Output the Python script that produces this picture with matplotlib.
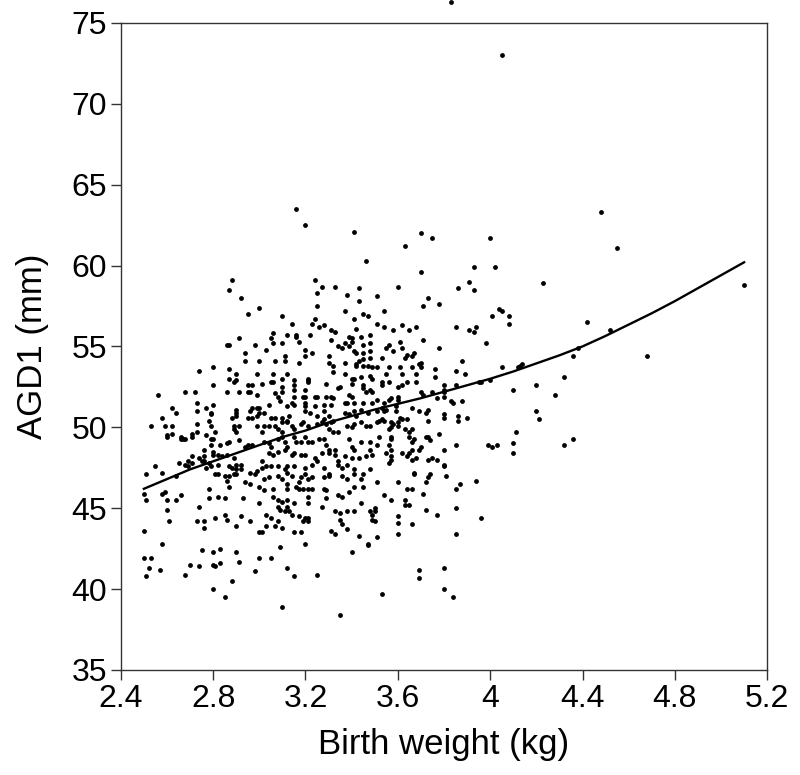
import matplotlib
matplotlib.use("Agg")
import matplotlib.pyplot as plt
import numpy as np

plt.rcParams['font.family'] = ['Liberation Sans', 'DejaVu Sans']

# Observed points (birth weight kg, AGD1 mm), grouped by region of the plot
pts_left_top = [
(2.88,59.1),(2.87,58.5),(2.92,58.0),(2.95,57.0),
]
pts_left_upper = [
(2.86,55.1),(2.87,55.1),(2.91,55.5),(2.98,55.1),(2.94,54.6),(2.94,54.1),(3.00,54.1),
(2.74,53.5),(2.80,53.7),(2.87,53.6),(2.90,53.3),(2.87,53.0),(2.89,52.8),(2.90,52.9),(2.99,53.3),
(2.80,52.6),(2.95,52.6),(2.97,52.6),(2.95,52.2),(2.96,52.2),(2.56,52.0),(2.68,52.2),(2.72,52.2),(2.86,52.2),(2.91,52.2),(2.99,52.0),
(2.73,51.5),(2.77,51.2),(2.80,51.4),(2.73,51.0),(2.62,51.2),(2.64,50.9),(2.90,51.1),(2.90,50.9),(2.79,50.9),(2.79,50.8),(2.96,51.0),(2.97,51.2),(2.99,51.2),
(2.88,50.6),(2.90,50.7),(2.95,50.6),(2.97,50.6),(2.99,50.7),(2.58,50.6),(2.53,50.1),(2.59,50.1),(2.62,50.1),(2.73,50.2),(2.78,50.4),(2.79,50.1),(2.89,50.1),(2.91,50.1),(2.89,49.9),(2.90,49.7),(2.99,50.1),
(2.60,49.4),(2.62,49.6),(2.60,49.5),(2.66,49.4),(2.67,49.3),(2.68,49.3),(2.66,49.3),(2.71,49.6),(2.71,49.4),(2.73,49.7),(2.77,49.5),(2.79,49.3),(2.80,49.3),(2.81,49.7),
(2.79,48.9),(2.83,48.9),(2.86,49.0),(2.87,49.1),(2.91,49.2),(2.94,48.8),(2.95,48.9),(2.97,48.9),
(2.76,48.6),(2.74,48.1),(2.75,47.9),(2.76,47.9),(2.76,48.2),(2.80,48.5),(2.80,48.3),(2.71,48.2),(2.69,47.9),(2.71,47.8),(2.65,47.8),(2.68,47.7),(2.69,47.6),
(2.82,48.3),(2.84,48.2),(2.86,48.3),(2.89,48.1),(2.78,47.8),(2.79,47.6),(2.77,47.5),(2.82,47.7),(2.81,47.1),(2.82,47.1),
(2.87,47.6),(2.88,47.5),(2.87,47.0),(2.89,47.1),(2.90,47.7),(2.92,47.7),(2.90,47.4),(2.92,47.4),(2.90,47.1),
(2.96,47.2),(2.98,47.1),(2.99,47.3),(2.55,47.6),(2.58,47.2),(2.51,47.1),(2.64,47.0),(2.85,47.0),
]
pts_left_lower = [
(2.50,45.9),(2.51,45.5),(2.58,45.9),(2.59,46.0),(2.60,45.5),(2.64,45.5),(2.66,45.8),(2.60,44.9),(2.61,44.2),(2.50,43.6),
(2.58,42.8),(2.50,41.9),(2.53,41.9),(2.52,41.3),(2.51,40.8),(2.57,41.2),(2.70,41.5),(2.68,40.9),(2.74,41.4),(2.75,42.4),
(2.80,42.3),(2.83,42.5),(2.80,41.5),(2.81,41.4),(2.83,41.6),(2.90,42.3),(2.91,41.7),(2.88,40.5),(2.80,40.0),(2.85,39.5),
(2.74,45.1),(2.78,46.2),(2.78,45.6),(2.82,45.7),(2.85,45.6),(2.73,44.2),(2.76,44.2),(2.76,43.8),(2.81,44.4),(2.85,44.6),
(2.86,44.3),(2.87,46.3),(2.90,43.9),(2.92,44.5),(2.93,45.6),(2.94,46.6),(2.96,46.5),(2.96,44.2),(2.86,46.7),
]
pts_mid_upper = [
(3.24,59.1),(3.27,58.7),(3.33,58.7),(3.43,58.6),(3.25,58.3),(3.38,58.2),(3.43,57.8),(3.00,57.4),(3.25,57.5),(3.37,57.2),(3.45,57.0),(3.47,56.9),(3.10,56.9),(3.24,56.7),(3.41,56.7),(3.14,56.4),(3.23,56.4),(3.26,56.2),(3.28,56.3),(3.31,56.0),(3.33,55.9),(3.42,56.1),
(3.06,55.8),(3.05,55.5),(3.06,55.2),(3.12,55.7),(3.16,55.7),(3.16,55.6),(3.17,55.3),(3.22,55.7),(3.31,55.4),(3.39,55.6),(3.40,55.5),(3.40,55.3),(3.44,55.6),(3.48,55.7),(3.10,55.2),(3.37,55.2),(3.34,55.0),(3.36,54.9),(3.39,55.0),(3.41,54.7),(3.42,54.6),(3.45,55.1),(3.48,55.2),
(3.03,54.8),(3.20,54.8),(3.23,54.6),(3.45,54.6),(3.48,54.7),(3.11,54.4),(3.11,54.1),(3.07,54.1),(3.17,54.0),(3.20,54.4),(3.30,54.4),(3.30,54.0),(3.32,53.8),(3.37,54.0),(3.42,53.9),(3.42,53.8),(3.43,54.1),(3.45,54.2),(3.48,54.3),(3.45,53.8),(3.47,53.8),(3.49,53.7),
(3.06,53.3),(3.10,53.0),(3.12,53.3),(3.32,53.4),(3.37,53.3),(3.40,53.0),(3.41,53.0),(3.44,53.1),(3.48,53.2),(3.49,53.0),
(3.01,52.7),(3.05,52.8),(3.06,52.8),(3.15,52.9),(3.15,52.6),(3.15,52.3),(3.21,52.8),(3.21,52.9),(3.21,53.0),(3.20,52.3),(3.10,52.5),(3.10,52.2),(3.29,52.7),(3.34,52.4),(3.35,52.5),(3.45,52.6),(3.45,52.4),(3.40,52.7),(3.48,52.3),(3.49,52.2),
(3.07,52.1),(3.08,51.9),(3.15,51.9),(3.19,51.9),(3.20,51.9),(3.24,51.9),(3.25,51.9),(3.29,51.9),(3.31,51.9),(3.32,51.8),(3.39,52.0),(3.40,51.9),(3.46,52.2),
]
pts_mid_center = [
(3.04,51.4),(3.00,51.2),(3.02,50.9),(3.00,50.9),(3.09,51.6),(3.12,51.3),(3.14,51.5),(3.15,51.4),(3.20,51.5),(3.20,51.3),(3.20,51.0),(3.24,51.3),(3.28,51.4),(3.31,51.4),(3.22,50.9),(3.25,50.7),(3.28,51.0),(3.30,50.7),
(3.37,51.5),(3.38,51.5),(3.41,51.5),(3.45,51.5),(3.49,51.5),
(3.37,50.9),(3.39,50.8),(3.41,51.0),(3.42,50.7),(3.44,51.1),(3.47,50.9),
(3.05,50.6),(3.07,50.6),(3.10,50.6),(3.10,50.3),(3.12,50.4),(3.13,50.7),
(3.04,50.1),(3.02,50.1),(3.01,49.7),(3.07,50.1),(3.08,49.9),(3.10,49.7),(3.12,50.3),(3.14,50.1),(3.15,49.9),(3.18,50.2),(3.19,50.3),(3.21,50.1),
(3.25,50.2),(3.27,50.3),(3.28,50.5),(3.29,50.2),(3.31,50.3),(3.32,50.4),(3.30,49.9),(3.32,49.7),(3.34,49.7),(3.38,50.1),(3.40,50.0),(3.41,50.2),(3.44,50.3),(3.46,50.1),(3.48,50.1),
(3.02,49.1),(3.04,49.0),(3.05,48.8),(3.08,49.3),(3.10,49.4),(3.11,49.1),(3.12,48.8),(3.15,49.4),(3.16,49.1),(3.18,49.1),(3.20,49.4),(3.21,49.1),(3.23,49.1),(3.26,49.3),(3.28,49.3),(3.29,48.9),(3.30,48.6),(3.33,48.6),(3.39,49.3),(3.40,48.8),(3.41,48.6),(3.44,49.1),(3.48,49.1),(3.48,48.6),
(3.01,47.9),(3.04,48.4),(3.06,48.3),(3.08,48.5),(3.11,48.6),(3.14,48.3),(3.15,48.4),(3.18,48.3),(3.20,48.3),(3.24,48.1),(3.25,47.9),(3.27,48.4),(3.30,48.4),(3.33,48.3),(3.34,47.9),(3.37,48.2),(3.40,48.1),(3.43,48.1),(3.46,48.2),(3.49,48.3),
(3.01,47.5),(3.03,47.6),(3.05,47.6),(3.08,47.6),(3.12,47.6),(3.11,47.4),(3.12,47.2),(3.15,47.6),(3.20,47.5),(3.20,47.1),(3.21,46.8),(3.23,47.7),(3.28,47.5),(3.30,47.1),(3.34,47.7),(3.36,47.5),(3.38,47.7),(3.41,47.4),(3.45,47.1),(3.48,47.4),
(3.02,46.8),(3.04,46.9),(3.08,47.0),(3.10,46.8),(3.14,47.0),(3.17,46.6),(3.18,46.9),(3.23,46.9),(3.28,46.9),(3.30,47.0),(3.36,47.0),(3.38,46.8),(3.41,47.1),(3.44,46.8),
(3.00,46.3),(3.02,46.1),(3.06,46.2),(3.12,46.5),(3.12,46.2),(3.16,46.3),(3.17,46.2),(3.19,46.2),(3.21,46.2),(3.23,46.2),(3.28,46.2),(3.29,46.1),(3.34,45.8),(3.36,45.7),(3.39,46.0),(3.41,46.3),(3.45,46.3),
(3.00,45.3),(3.06,45.7),(3.08,45.5),(3.10,45.4),(3.12,45.5),(3.08,45.1),(3.09,44.9),(3.11,44.8),(3.12,45.1),(3.13,44.8),(3.15,45.3),(3.21,45.7),(3.21,45.3),(3.27,45.1),(3.29,45.6),(3.33,44.8),(3.35,44.7),(3.38,44.8),(3.41,44.8),(3.44,45.3),(3.48,44.8),
(3.03,44.6),(3.05,44.4),(3.14,44.6),(3.17,44.5),(3.20,44.4),(3.21,44.4),
]
pts_mid_lower = [
(3.08,44.2),(3.03,43.9),(3.07,43.9),(3.10,43.8),(3.19,44.2),(3.21,44.2),(3.00,43.5),(3.01,43.5),(3.15,43.5),(3.18,43.5),
(3.09,42.6),(3.20,42.8),(3.00,41.9),(3.05,41.9),(2.98,41.1),(3.12,41.3),(3.15,40.8),(3.25,40.9),(3.10,38.9),(3.35,38.4),
(3.31,43.6),(3.33,43.4),(3.38,43.7),(3.43,43.3),(3.47,42.8),(3.40,42.3),(3.35,44.3),(3.36,44.0),(3.49,44.3),
]
pts_right_upper = [
(3.70,62.0),(3.75,61.7),(3.63,61.2),(3.70,59.6),(3.93,59.9),(3.60,58.7),(3.86,58.6),(3.91,59.0),(3.93,58.5),(3.46,60.3),
(3.51,58.1),(3.73,58.0),(3.71,57.5),(3.78,57.6),(3.54,57.2),(3.51,56.4),(3.54,56.2),(3.58,56.0),(3.62,56.3),(3.65,56.0),
(3.68,56.2),(3.85,56.2),(3.91,56.0),(3.93,55.9),(3.94,56.2),(3.61,55.3),(3.71,55.4),(3.55,54.9),(3.56,55.1),(3.62,54.9),(3.78,54.9),
(3.16,63.5),(3.20,62.5),(3.41,62.1),
]
pts_right_center = [
(3.53,54.3),(3.58,54.7),(3.63,54.3),(3.64,54.5),(3.66,54.4),(3.67,54.6),(3.51,53.7),(3.56,53.7),(3.55,53.3),(3.61,53.7),(3.62,53.3),(3.66,53.7),(3.69,53.9),(3.70,54.0),(3.70,53.7),(3.68,53.3),(3.76,53.6),(3.85,53.5),(3.88,54.1),(3.89,53.3),
(3.53,52.8),(3.53,52.6),(3.56,52.8),(3.60,52.5),(3.62,52.6),(3.64,52.8),(3.68,52.8),(3.76,53.1),(3.80,52.6),(3.80,52.3),(3.85,52.6),(3.95,52.8),(3.96,52.8),
(3.51,51.7),(3.54,51.5),(3.56,51.7),(3.57,51.8),(3.60,51.9),(3.60,51.7),(3.70,52.2),(3.71,52.0),(3.75,52.2),(3.77,51.8),(3.80,52.2),(3.80,51.9),(3.83,51.6),(3.84,51.5),(3.88,51.6),
(3.51,51.0),(3.53,51.2),(3.54,51.0),(3.55,51.1),(3.59,51.3),(3.59,51.0),(3.66,51.2),(3.69,51.0),(3.73,51.1),(3.72,50.9),(3.80,50.8),(3.80,50.6),(3.86,50.7),(3.86,50.4),(3.90,50.6),
(3.51,50.3),(3.52,50.4),(3.53,50.5),(3.54,50.4),(3.57,50.3),(3.58,50.2),(3.60,50.3),(3.61,50.6),(3.62,50.5),(3.64,50.5),(3.73,50.4),
(3.56,49.9),(3.57,50.0),(3.60,50.1),(3.63,49.9),(3.65,49.7),(3.66,49.9),
(3.52,49.4),(3.57,49.4),(3.57,49.3),(3.65,49.4),(3.66,49.1),(3.67,49.3),(3.72,49.4),(3.73,49.4),(3.74,49.2),(3.78,49.6),
(3.51,48.9),(3.56,48.9),(3.57,48.6),(3.55,48.4),(3.57,48.2),(3.62,48.4),(3.65,48.4),(3.66,48.6),(3.69,48.6),(3.70,48.8),(3.80,48.6),(3.85,48.9),
(3.57,48.0),(3.56,47.8),(3.64,48.2),(3.66,48.0),(3.68,48.1),(3.73,48.0),(3.75,48.1),(3.77,48.0),(3.80,47.7),(3.80,47.6),
(3.67,47.2),(3.67,47.1),(3.73,46.9),(3.74,47.1),
]
pts_right_lower = [
(3.81,47.0),(3.51,46.6),(3.60,46.6),(3.72,46.6),(3.87,46.5),(3.85,46.2),(3.94,46.7),(3.64,46.2),(3.66,46.2),(3.54,45.8),
(3.57,45.5),(3.63,45.5),(3.63,45.2),(3.65,45.2),(3.71,45.9),(3.50,45.0),(3.50,44.8),(3.49,44.6),(3.50,44.2),(3.60,44.5),
(3.60,44.1),(3.66,44.0),(3.72,44.9),(3.77,44.6),(3.85,45.0),(3.60,43.4),(3.85,43.4),(3.51,43.2),(3.47,42.7),(3.69,41.2),
(3.69,40.7),(3.80,41.3),(3.80,40.0),(3.84,39.5),(3.53,39.7),
]
pts_heavy = [
(4.05,73.0),(4.48,63.3),(4.00,61.7),(4.55,61.1),(4.02,59.9),(4.23,58.9),(5.10,58.8),(4.04,57.3),(4.05,57.2),(4.01,56.9),
(4.08,56.9),(4.08,56.4),(4.42,56.5),(4.52,56.0),(3.98,55.2),(4.38,54.9),(4.36,54.4),(4.68,54.4),(4.05,53.7),(4.12,53.7),
(4.13,53.8),(4.14,53.9),(4.32,53.1),
(4.00,52.9),(4.10,52.3),(4.20,52.6),(4.28,52.0),(4.20,51.0),(4.21,50.5),(4.11,49.7),(3.99,48.9),(4.01,48.8),(4.03,48.9),
(4.10,49.0),(4.10,48.4),(4.32,48.9),(4.36,49.3),(3.96,44.4),
(3.83,76.3),
]

# Smoothed fit curve
fit_bw  = [2.5, 2.6, 2.7, 2.8, 2.9, 3.0, 3.1, 3.2, 3.3, 3.4, 3.5, 3.6, 3.7, 3.8,
           3.9, 4.0, 4.1, 4.2, 4.3, 4.4, 4.5, 4.6, 4.7, 4.8, 4.9, 5.0, 5.1]
fit_agd = [46.2, 46.8, 47.4, 47.9, 48.4, 48.9, 49.4, 49.8, 50.3, 50.7, 51.1, 51.45, 51.8, 52.2,
           52.6, 53.0, 53.45, 53.95, 54.45, 55.0, 55.65, 56.35, 57.05, 57.8, 58.6, 59.4, 60.2]

x_ticks = [2.4, 2.8, 3.2, 3.6, 4.0, 4.4, 4.8, 5.2]
x_tick_labels = ["2.4", "2.8", "3.2", "3.6", "4", "4.4", "4.8", "5.2"]
y_ticks = [35, 40, 45, 50, 55, 60, 65, 70, 75]

all_pts = (pts_left_top + pts_left_upper + pts_left_lower + pts_mid_upper + pts_mid_center +
           pts_mid_lower + pts_right_upper + pts_right_center + pts_right_lower + pts_heavy)
bw = np.array([p[0] for p in all_pts])
agd = np.array([p[1] for p in all_pts])

fig = plt.figure(figsize=(8, 7.75), dpi=100)
ax = fig.add_axes([0.151, 0.1355, 0.808, 0.835])
ax.scatter(bw, agd, s=12, c='black', linewidths=0, zorder=3, clip_on=False)
ax.plot(fit_bw, fit_agd, color='black', lw=1.7, zorder=4)

ax.set_xlim(2.4, 5.2)
ax.set_ylim(35, 75)
ax.set_xticks(x_ticks)
ax.set_xticklabels(x_tick_labels)
ax.set_yticks(y_ticks)
for s in ax.spines.values():
    s.set_linewidth(1.0)
    s.set_color('#333333')
ax.tick_params(direction='out', length=7, width=1.0, color='#333333',
               labelsize=23, pad=3)
ax.set_xlabel("Birth weight (kg)", fontsize=25, labelpad=10)
ax.set_ylabel("AGD1 (mm)", fontsize=25, labelpad=16)

fig.savefig("out.png", dpi=100)
